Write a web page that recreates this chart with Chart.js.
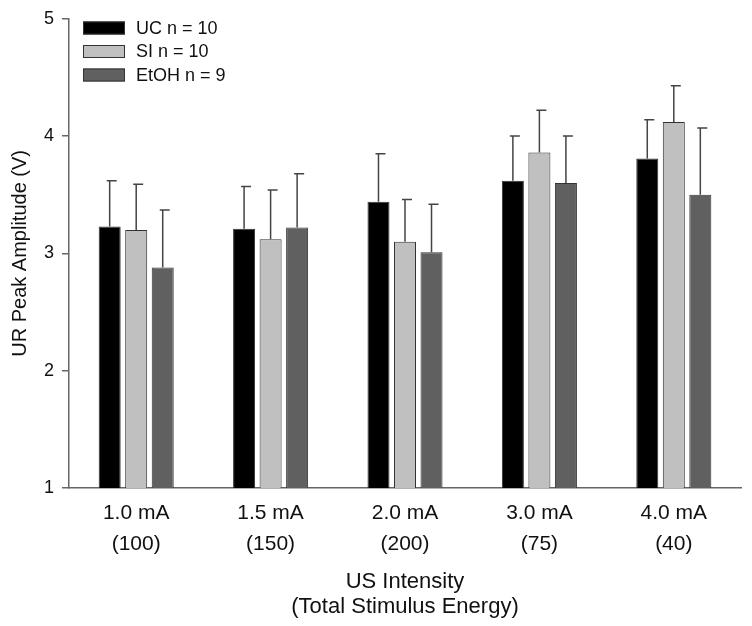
<!DOCTYPE html>
<html>
<head>
<meta charset="utf-8">
<script src="https://cdn.jsdelivr.net/npm/chart.js@4.4.1/dist/chart.umd.min.js"></script>
<style>
  html, body { margin: 0; padding: 0; background: #fff; }
  #wrap { width: 752px; height: 626px; position: relative; }
</style>
</head>
<body>
<div id="wrap"><canvas id="chart"></canvas></div>
<script>
// ── data ─────────────────────────────────────────────
const categories = [
  ['1.0 mA', '(100)'],
  ['1.5 mA', '(150)'],
  ['2.0 mA', '(200)'],
  ['3.0 mA', '(75)'],
  ['4.0 mA', '(40)'],
];
const groupLabels = ['UC n = 10', 'SI n = 10', 'EtOH n = 9'];
const ucMean   = [3.23, 3.21, 3.44, 3.62, 3.81];
const ucSem    = [0.39, 0.36, 0.41, 0.38, 0.33];
const siMean   = [3.20, 3.12, 3.10, 3.86, 4.12];
const siSem    = [0.39, 0.42, 0.36, 0.36, 0.31];
const etohMean = [2.88, 3.22, 3.01, 3.60, 3.50];
const etohSem  = [0.49, 0.46, 0.41, 0.40, 0.57];
const yTicks   = [1, 2, 3, 4, 5];

const FONT = '"Liberation Sans", Arial, sans-serif';
const AXIS = '#666';
const fills = ['#000000', '#c0c0c0', '#606060'];

// upward-only error bars with a cap
const errorBars = {
  id: 'errorBars',
  afterDatasetsDraw(chart) {
    const { ctx } = chart;
    const y = chart.scales.y;
    chart.data.datasets.forEach((ds, i) => {
      const meta = chart.getDatasetMeta(i);
      meta.data.forEach((bar, j) => {
        const top = y.getPixelForValue(ds.data[j] + ds.sem[j]);
        ctx.save();
        ctx.strokeStyle = '#444';
        ctx.lineWidth = 1.5;
        ctx.beginPath();
        ctx.moveTo(bar.x, bar.y);
        ctx.lineTo(bar.x, top);
        ctx.moveTo(bar.x - 3, top);
        ctx.lineTo(bar.x + 7, top);
        ctx.stroke();
        ctx.restore();
      });
    });
  }
};

// legend box in the top-left corner of the plot
const cornerLegend = {
  id: 'cornerLegend',
  afterDraw(chart) {
    const { ctx } = chart;
    ctx.save();
    ctx.font = '18px ' + FONT;
    ctx.textBaseline = 'middle';
    chart.data.datasets.forEach((ds, i) => {
      const cy = 28 + i * 23.5;
      ctx.fillStyle = ds.backgroundColor;
      ctx.fillRect(83, cy - 6.5, 42, 13);
      ctx.strokeStyle = '#333';
      ctx.lineWidth = 1;
      ctx.strokeRect(83.5, cy - 6, 41, 12);
      ctx.fillStyle = '#111';
      ctx.fillText(ds.label, 136, cy + 1);
    });
    ctx.restore();
  }
};

const mkSet = (label, data, sem, i) => ({
  label, data, sem,
  backgroundColor: fills[i],
  borderColor: '#333',
  borderWidth: 1,
  categoryPercentage: 0.592,
  barPercentage: 0.83,
});

new Chart(document.getElementById('chart'), {
  type: 'bar',
  data: {
    labels: categories,
    datasets: [
      mkSet(groupLabels[0], ucMean, ucSem, 0),
      mkSet(groupLabels[1], siMean, siSem, 1),
      mkSet(groupLabels[2], etohMean, etohSem, 2),
    ],
  },
  options: {
    responsive: true, maintainAspectRatio: false,
    animation: false,
    layout: { padding: { top: 18, right: 11, left: 0, bottom: 0 } },
    plugins: { legend: { display: false }, tooltip: { enabled: false } },
    scales: {
      x: {
        grid: { display: false },
        border: { color: AXIS, width: 1.5 },
        ticks: { color: '#111', font: { family: FONT, size: 21, lineHeight: 1.476 }, padding: 2 },
        title: {
          display: true,
          text: ['US Intensity', '(Total Stimulus Energy)'],
          color: '#111',
          font: { family: FONT, size: 22, lineHeight: 1.14 },
          padding: { top: 0, bottom: 6.5 },
        },
        afterFit: s => { s.height = 138; },
      },
      y: {
        min: 1, max: 5,
        afterBuildTicks: s => { s.ticks = yTicks.map(v => ({ value: v })); },
        grid: { drawOnChartArea: false, drawTicks: true, tickLength: 7, color: AXIS, lineWidth: 1.5 },
        border: { color: AXIS, width: 1.5 },
        ticks: { color: '#111', font: { family: FONT, size: 18 }, padding: 8 },
        title: {
          display: true,
          text: 'UR Peak Amplitude (V)',
          color: '#111',
          font: { family: FONT, size: 20 },
          padding: { top: 8, bottom: 0 },
        },
        afterFit: s => { s.width = 69; },
      },
    },
  },
  plugins: [errorBars, cornerLegend],
});
</script>
</body>
</html>
